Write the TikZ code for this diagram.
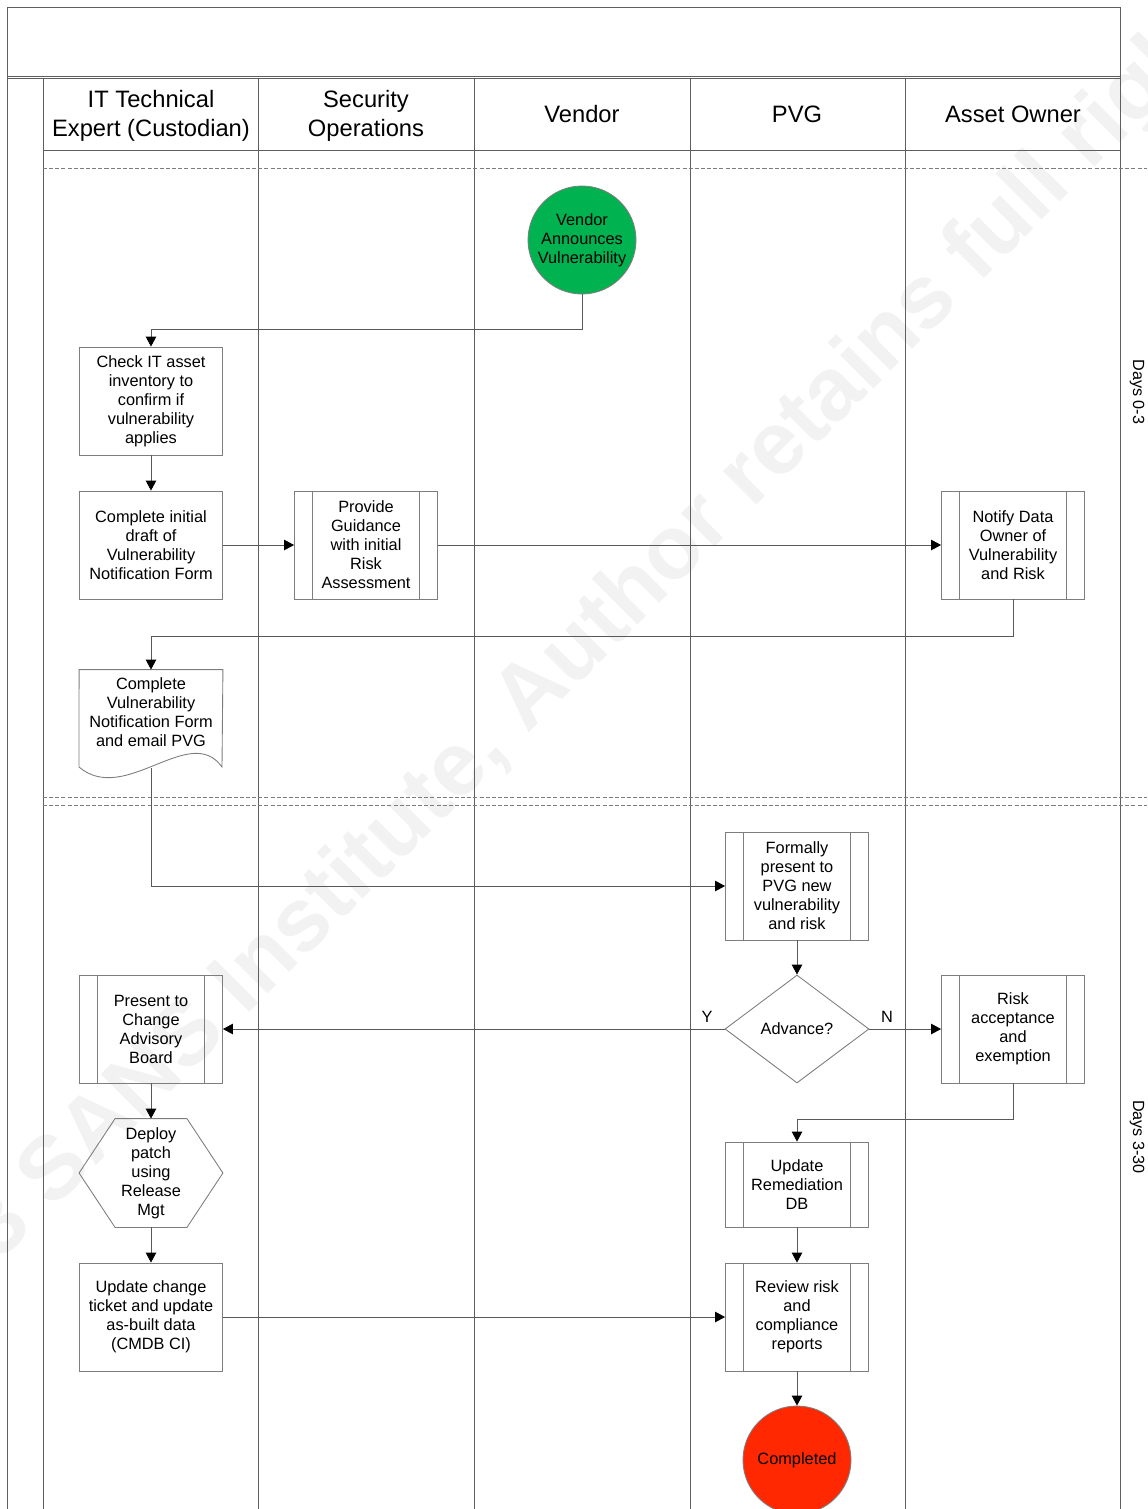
\documentclass[tikz,border=0pt]{standalone}
\usepackage{fontspec}
\setmainfont{Liberation Sans}
\usetikzlibrary{shapes.geometric,arrows.meta,positioning}

\definecolor{vendorgreen}{RGB}{0,178,80}
\definecolor{donered}{RGB}{255,40,0}
\definecolor{laneline}{RGB}{95,95,95}
\definecolor{boxline}{RGB}{125,125,125}

\tikzstyle{lane} = [draw=laneline, line width=0.5pt]
\tikzstyle{phase} = [draw=boxline, line width=0.5pt, dash pattern=on 2.3pt off 1.2pt]
\tikzstyle{lanetitle} = [align=center, font=\fontsize{13.5}{16.4}\selectfont]
\tikzstyle{daylabel} = [rotate=-90, font=\fontsize{9.2}{11}\selectfont]
\tikzstyle{watermark} = [rotate=45, inner sep=0pt, text=black!5, font=\fontsize{51}{53}\selectfont\bfseries]
\tikzstyle{procbox} = [draw=boxline, line width=0.5pt, rectangle, minimum width=2.86cm, minimum height=2.16cm, inner sep=1pt, align=center, font=\fontsize{9.3}{10.8}\selectfont]
\tikzstyle{subproc} = [procbox, path picture={
    \draw[boxline, line width=0.5pt] ([xshift=0.36cm]path picture bounding box.north west) -- ([xshift=0.36cm]path picture bounding box.south west)
      ([xshift=-0.36cm]path picture bounding box.north east) -- ([xshift=-0.36cm]path picture bounding box.south east);}]
\tikzstyle{hexbox} = [procbox, draw=none]
\tikzstyle{docbox} = [procbox, draw=none, minimum height=1.68cm]
\tikzstyle{event} = [draw=boxline, line width=0.5pt, circle, minimum size=2.16cm, inner sep=0pt, align=center, font=\fontsize{9.3}{10.8}\selectfont]
\tikzstyle{decision} = [draw=boxline, line width=0.5pt, diamond, minimum width=2.88cm, minimum height=2.16cm, inner sep=0pt, font=\fontsize{9.3}{10.8}\selectfont]
\tikzstyle{flow} = [draw=black!65, line width=0.5pt, -{Triangle[length=0.2cm, width=0.21cm, color=black]}]
\tikzstyle{flowlabel} = [font=\fontsize{9.3}{10.8}\selectfont]

\begin{document}
\begin{tikzpicture}[x=0.02cm, y=-0.02cm]
\useasboundingbox (0,0) rectangle (1147,1509);

\node[watermark] (mark) at (532,698) {© 2013 SANS Institute, Author retains full rights};

% pool, lanes and phases
\draw[lane] (7,1509) -- (7,7) -- (1120,7) -- (1120,1509);
\draw[lane] (7,76) -- (1120,76) (7,78) -- (1120,78);
\foreach \x in {43,258,474,690,905}
  \draw[lane] (\x,78) -- (\x,1509);
\draw[lane] (43,150) -- (1120,150);
\draw[phase] (43,168) -- (1147,168);
\draw[phase] (43,797) -- (1147,797) (43,805) -- (1147,805);

\node[lanetitle] (custodian) at (151,116) {IT Technical\\Expert (Custodian)};
\node[lanetitle] (secops) at (366,116) {Security\\Operations};
\node[lanetitle] (vendorlane) at (582,114) {Vendor};
\node[lanetitle] (pvg) at (797,114) {PVG};
\node[lanetitle] (owner) at (1013,114) {Asset Owner};
\node[daylabel] (days1) at (1137,392) {Days 0-3};
\node[daylabel] (days2) at (1137,1137) {Days 3-30};

% steps
\node[event, fill=vendorgreen] (vendor) at (582,240) {Vendor\\Announces\\Vulnerability};
\node[procbox] (check) at (151,401) {Check IT asset\\inventory to\\confirm if\\vulnerability\\applies};
\node[procbox] (draft) at (151,545) {Complete initial\\draft of\\Vulnerability\\Notification Form};
\node[subproc] (guide) at (366,545) {Provide\\Guidance\\with initial\\Risk\\Assessment};
\node[subproc] (notify) at (1013,545) {Notify Data\\Owner of\\Vulnerability\\and Risk};
\node[docbox] (form) at (151,712) {Complete\\Vulnerability\\Notification Form\\and email PVG};
\draw[boxline, line width=0.5pt] (form.north west) -- (form.north east) -- (222,767)
  .. controls (190,722) and (125,806) .. (79,767) -- cycle;
\coordinate (formout) at (151,768);
\node[subproc] (present) at (797,886) {Formally\\present to\\PVG new\\vulnerability\\and risk};
\node[decision] (advance) at (797,1029) {Advance?};
\node[subproc] (risk) at (1013,1029) {Risk\\acceptance\\and\\exemption};
\node[subproc] (cab) at (151,1029) {Present to\\Change\\Advisory\\Board};
\node[hexbox] (deploy) at (151,1173) {Deploy\\patch\\using\\Release\\Mgt};
\draw[boxline, line width=0.5pt] (deploy.west) -- ([xshift=0.72cm]deploy.north west) -- ([xshift=-0.72cm]deploy.north east)
  -- (deploy.east) -- ([xshift=-0.72cm]deploy.south east) -- ([xshift=0.72cm]deploy.south west) -- cycle;
\node[procbox] (ticket) at (151,1317) {Update change\\ticket and update\\as-built data\\(CMDB CI)};
\node[subproc, minimum height=1.7cm] (remed) at (797,1184.5) {Update\\Remediation\\DB};
\node[subproc] (review) at (797,1317) {Review risk\\and\\compliance\\reports};
\node[event, fill=donered] (done) at (797,1460) {Completed};

% connectors
\coordinate (v1) at (582,329);
\coordinate (n1) at (1013,636);
\coordinate (r1) at (1013,1119);
\draw[flow] (vendor.south) -- (v1) -| (check.north);
\draw[flow] (check) -- (draft);
\draw[flow] (draft) -- (guide);
\draw[flow] (guide) -- (notify);
\draw[flow] (notify.south) -- (n1) -| (form.north);
\draw[flow] (formout) |- (present.west);
\draw[flow] (present) -- (advance);
\draw[flow] (advance) -- (cab);
\draw[flow] (advance) -- (risk);
\node[flowlabel] (yes) at (707,1017) {Y};
\node[flowlabel] (no) at (887,1017) {N};
\draw[flow] (risk.south) -- (r1) -| (remed.north);
\draw[flow] (remed) -- (review);
\draw[flow] (review) -- (done);
\draw[flow] (cab) -- (deploy);
\draw[flow] (deploy) -- (ticket);
\draw[flow] (ticket) -- (review);
\end{tikzpicture}
\end{document}
